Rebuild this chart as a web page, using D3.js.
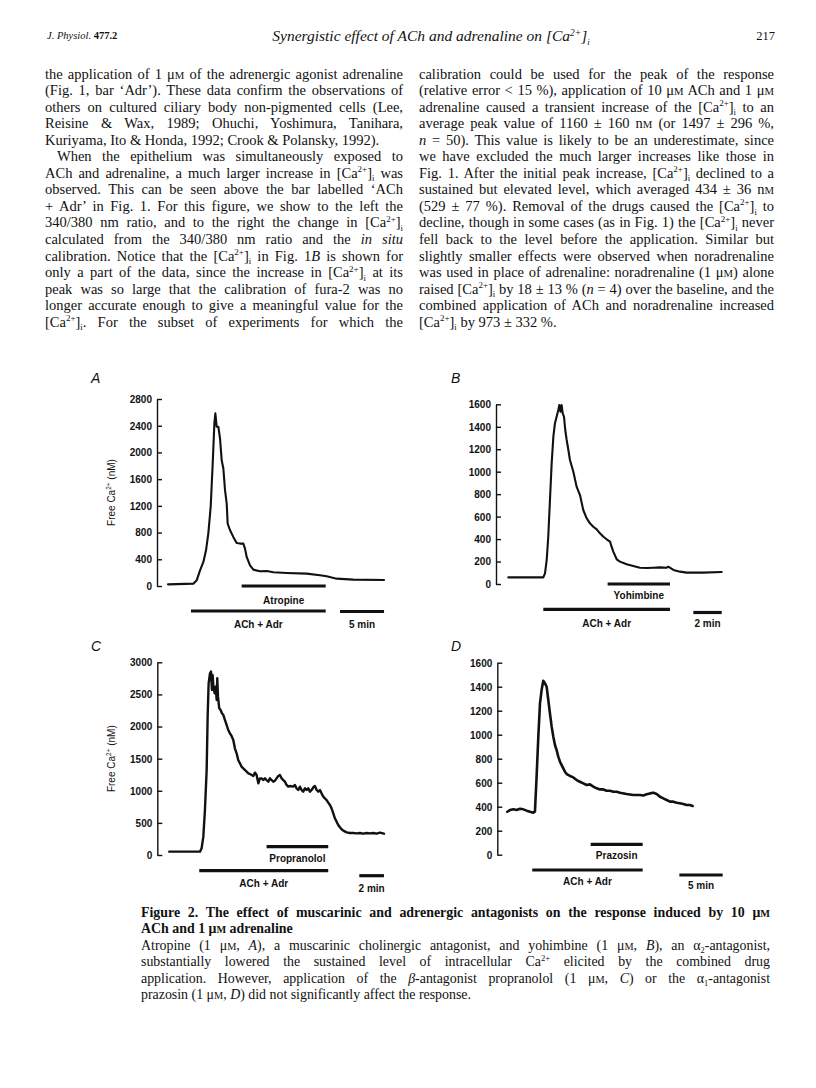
<!DOCTYPE html>
<html><head><meta charset="utf-8">
<script src="https://cdn.jsdelivr.net/npm/d3@7"></script>
<style>body{margin:0;background:#fff}</style>
</head><body>
<svg id="page" width="816" height="1088"></svg>
<script>
// ---------------- DATA ----------------
// Panel A: time (min) and free Ca2+ (nM)
const timeA = [0, 2.88, 3.26, 3.64, 4.02, 4.32, 4.58, 4.85, 5.08, 5.27, 5.38, 5.53, 5.72, 5.91, 6.10, 6.29, 6.48, 6.67, 6.78, 7.05, 7.42, 7.80, 8.18, 8.56, 8.75, 8.94, 9.32, 9.70, 10.45, 11.21, 11.97, 13.48, 15.76, 17.27, 18.03, 19.17, 21.06, 24.55];
const caA   = [25, 35, 85, 235, 360, 535, 785, 1185, 1835, 2435, 2585, 2385, 2385, 2210, 1885, 1760, 1435, 1235, 935, 835, 735, 645, 635, 635, 560, 435, 310, 245, 220, 225, 205, 195, 185, 160, 145, 110, 95, 90];
// Panel B
const timeB = [0, 2.47, 2.59, 2.71, 2.82, 2.94, 3.06, 3.18, 3.29, 3.41, 3.53, 3.60, 3.69, 3.76, 3.84, 3.93, 4.02, 4.12, 4.24, 4.35, 4.59, 4.82, 5.06, 5.29, 5.53, 5.76, 6.00, 6.24, 6.47, 6.71, 6.94, 7.18, 7.29, 7.41, 7.65, 7.88, 8.35, 8.82, 9.29, 9.76, 10.24, 10.71, 11.18, 11.29, 11.65, 12.12, 12.59, 13.76, 15.06];
const caB   = [59, 59, 95, 214, 421, 748, 1074, 1312, 1430, 1490, 1549, 1594, 1534, 1594, 1520, 1490, 1371, 1282, 1193, 1104, 1000, 867, 792, 659, 585, 540, 510, 487, 451, 421, 398, 377, 332, 288, 220, 199, 175, 160, 145, 142, 145, 148, 145, 154, 125, 110, 101, 101, 107];
// Panel C
const timeC = [0, 2.49, 2.62, 2.76, 2.89, 3.03, 3.11, 3.19, 3.30, 3.38, 3.46, 3.51, 3.59, 3.68, 3.76, 3.84, 3.89, 3.95, 4.05, 4.16, 4.27, 4.38, 4.51, 4.65, 4.78, 4.92, 5.05, 5.19, 5.32, 5.46, 5.59, 5.73, 5.86, 6.00, 6.14, 6.27, 6.41, 6.54, 6.68, 6.81, 6.95, 7.08, 7.22, 7.35, 7.49, 7.62, 7.76, 7.89, 8.03, 8.16, 8.30, 8.43, 8.57, 8.70, 8.84, 8.97, 9.11, 9.24, 9.38, 9.51, 9.65, 9.78, 10.05, 10.19, 10.32, 10.46, 10.59, 10.73, 10.86, 11.00, 11.14, 11.27, 11.41, 11.54, 11.68, 11.81, 11.95, 12.08, 12.22, 12.35, 12.49, 12.62, 12.76, 12.89, 13.03, 13.16, 13.30, 13.43, 13.57, 13.70, 13.84, 13.97, 14.11, 14.38, 14.65, 14.92, 15.19, 15.46, 15.73, 16.00, 16.27, 16.54, 16.81, 17.08, 17.41];
const caC   = [52, 52, 104, 285, 700, 1323, 2154, 2673, 2829, 2855, 2569, 2803, 2595, 2517, 2621, 2413, 2751, 2465, 2284, 2258, 2206, 2180, 2102, 2024, 1946, 1894, 1853, 1790, 1661, 1583, 1479, 1427, 1375, 1349, 1323, 1297, 1271, 1261, 1245, 1230, 1282, 1245, 1116, 1193, 1193, 1167, 1193, 1167, 1141, 1193, 1167, 1141, 1157, 1193, 1230, 1245, 1193, 1167, 1141, 1090, 1064, 1074, 1064, 1090, 1038, 1012, 1064, 1012, 986, 1038, 1012, 1038, 986, 1012, 1054, 1074, 1012, 986, 1012, 960, 908, 882, 856, 815, 778, 727, 649, 571, 519, 467, 431, 400, 379, 353, 343, 343, 337, 343, 332, 343, 337, 343, 332, 348, 332];
// Panel D
const timeD = [0, 0.31, 0.69, 1.08, 1.46, 1.85, 2.23, 2.62, 3.00, 3.19, 3.38, 3.58, 3.77, 3.96, 4.15, 4.35, 4.54, 4.73, 4.92, 5.12, 5.31, 5.50, 5.69, 5.88, 6.08, 6.27, 6.46, 6.65, 6.85, 7.23, 7.62, 8.00, 8.38, 8.77, 9.15, 9.54, 9.92, 10.31, 10.69, 11.08, 11.46, 11.85, 12.23, 12.62, 13.00, 13.77, 14.54, 15.31, 15.69, 16.08, 16.46, 16.85, 17.23, 17.62, 18.00, 18.38, 18.77, 19.15, 19.54, 19.92, 20.31, 20.69, 21.08, 21.38];
const caD   = [358, 372, 378, 372, 383, 378, 367, 358, 350, 358, 650, 983, 1261, 1372, 1450, 1428, 1400, 1289, 1178, 1067, 983, 914, 872, 817, 775, 747, 719, 692, 672, 656, 644, 622, 608, 594, 581, 586, 567, 553, 544, 544, 533, 533, 525, 525, 517, 506, 497, 497, 494, 503, 511, 517, 506, 483, 469, 456, 442, 442, 433, 428, 422, 414, 414, 406];

// Y tick values
const ticksA = [0, 400, 800, 1200, 1600, 2000, 2400, 2800];
const ticksB = [0, 200, 400, 600, 800, 1000, 1200, 1400, 1600];
const ticksC = [0, 500, 1000, 1500, 2000, 2500, 3000];
const ticksD = [0, 200, 400, 600, 800, 1000, 1200, 1400, 1600];

// Drug application bars [start, end] in minutes
const drugNames = ["Atropine", "Yohimbine", "Propranolol", "Prazosin"];
const drugBars  = [[8.37, 17.92], [7.01, 11.41], [7.89, 12.89], [9.62, 15.62]];
const achBars   = [[2.61, 17.92], [2.47, 11.41], [2.43, 12.89], [2.88, 15.62]];
const scaleBars = [[19.55, 24.55], [13.06, 15.06], [15.41, 17.41], [19.85, 24.85]];
const scaleLabels = ["5 min", "2 min", "2 min", "5 min"];
const panelLetters = ["A", "B", "C", "D"];
const yAxisTitle = "Free Ca";

// ---------------- TEXT ----------------
const header = {left: "J. Physiol.", vol: "477.2", title: "Synergistic effect of ACh and adrenaline on ", page: "217"};
const leftColumn = [
 "the application of 1 {uM} of the adrenergic agonist adrenaline",
 "(Fig. 1, bar \u2018Adr\u2019). These data confirm the observations of",
 "others on cultured ciliary body non-pigmented cells (Lee,",
 "Reisine & Wax, 1989; Ohuchi, Yoshimura, Tanihara,",
 "Kuriyama, Ito & Honda, 1992; Crook & Polansky, 1992).",
 "When the epithelium was simultaneously exposed to",
 "ACh and adrenaline, a much larger increase in {Ca} was",
 "observed. This can be seen above the bar labelled \u2018ACh",
 "+ Adr\u2019 in Fig. 1. For this figure, we show to the left the",
 "340/380 nm ratio, and to the right the change in {Ca}",
 "calculated from the 340/380 nm ratio and the <i>in situ</i>",
 "calibration. Notice that the {Ca} in Fig. 1<i>B</i> is shown for",
 "only a part of the data, since the increase in {Ca} at its",
 "peak was so large that the calibration of fura-2 was no",
 "longer accurate enough to give a meaningful value for the",
 "{Ca}. For the subset of experiments for which the"
];
const leftFlags = [1,1,1,1,0,1,1,1,1,1,1,1,1,1,1,1]; // 1 = justified
const rightColumn = [
 "calibration could be used for the peak of the response",
 "(relative error < 15 %), application of 10 {uM} ACh and 1 {uM}",
 "adrenaline caused a transient increase of the {Ca} to an",
 "average peak value of 1160 \u00b1 160 {nM} (or 1497 \u00b1 296 %,",
 "<i>n</i> = 50). This value is likely to be an underestimate, since",
 "we have excluded the much larger increases like those in",
 "Fig. 1. After the initial peak increase, {Ca} declined to a",
 "sustained but elevated level, which averaged 434 \u00b1 36 {nM}",
 "(529 \u00b1 77 %). Removal of the drugs caused the {Ca} to",
 "decline, though in some cases (as in Fig. 1) the {Ca} never",
 "fell back to the level before the application. Similar but",
 "slightly smaller effects were observed when noradrenaline",
 "was used in place of adrenaline: noradrenaline (1 {uM}) alone",
 "raised {Ca} by 18 \u00b1 13 % (<i>n</i> = 4) over the baseline, and the",
 "combined application of ACh and noradrenaline increased",
 "{Ca} by 973 \u00b1 332 %."
];
const rightFlags = [1,1,1,1,1,1,1,1,1,1,1,1,1,1,1,0];
const caption = [
 "Figure 2. The effect of muscarinic and adrenergic antagonists on the response induced by 10 {uM}",
 "ACh and 1 {uM} adrenaline",
 "Atropine (1 {uM}, <i>A</i>), a muscarinic cholinergic antagonist, and yohimbine (1 {uM}, <i>B</i>), an \u03b1{sub:2}-antagonist,",
 "substantially lowered the sustained level of intracellular Ca{sup:2+} elicited by the combined drug",
 "application. However, application of the <i>\u03b2</i>-antagonist propranolol (1 {uM}, <i>C</i>) or the \u03b1{sub:1}-antagonist",
 "prazosin (1 {uM}, <i>D</i>) did not significantly affect the response."
];
const captionBold = [1,1,0,0,0,0];
const captionJust = [1,0,1,1,1,0];

// ---------------- DRAW ----------------
const svg = d3.select("#page");
svg.append("rect").attr("width",816).attr("height",1088).attr("fill","#fff");
const INK = "#111";

function rich(sel, str, size) {
  const parts = str.split(/(\{Ca\}|\{uM\}|\{nM\}|\{sup:[^}]*\}|\{sub:[^}]*\}|<i>|<\/i>)/);
  let italic = false, shift = 0;
  const add = (txt, o = {}) => {
    const off = o.off || 0;
    const ts = sel.append("tspan").text(txt);
    if (Math.abs(off - shift) > 0.01) { ts.attr("dy", off - shift); shift = off; }
    if (o.size) ts.attr("font-size", o.size);
    if (italic) ts.attr("font-style", "italic");
  };
  parts.forEach(p => {
    if (!p) return;
    if (p === "<i>") { italic = true; return; }
    if (p === "</i>") { italic = false; return; }
    if (p === "{Ca}") {
      add("[Ca"); add("2+", {off: -0.38*size, size: 0.62*size}); add("]");
      add("i", {off: 0.25*size, size: 0.6*size}); return;
    }
    if (p === "{uM}") { add("\u03bc"); add("M", {size: 0.74*size}); return; }
    if (p === "{nM}") { add("n"); add("M", {size: 0.74*size}); return; }
    if (p.startsWith("{sup:")) { add(p.slice(5,-1), {off: -0.38*size, size: 0.62*size}); return; }
    if (p.startsWith("{sub:")) { add(p.slice(5,-1), {off: 0.25*size, size: 0.6*size}); return; }
    add(p);
  });
}

function textBlock(lines, flags, x0, x1, y0, dy, size, opts = {}) {
  lines.forEach((ln, i) => {
    const indent = (opts.indentLines && opts.indentLines.includes(i)) ? opts.indent : 0;
    const t = svg.append("text")
      .attr("x", x0 + indent).attr("y", y0 + i*dy)
      .attr("font-family", "'Liberation Serif', 'Times New Roman', serif")
      .attr("font-size", size).attr("fill", INK)
      .attr("font-weight", opts.bold && opts.bold[i] ? "bold" : null);
    rich(t, ln, size);
    if (flags[i]) {
      const nat = t.node().getComputedTextLength();
      const spaces = (t.text().match(/ /g) || []).length;
      if (spaces > 0) t.attr("word-spacing", ((x1 - x0 - indent) - nat) / spaces);
    }
  });
}

// header
const hd = svg.append("text").attr("x", 47).attr("y", 39)
  .attr("font-family", "'Liberation Serif', serif").attr("font-size", 10.5).attr("fill", INK);
hd.append("tspan").attr("font-style", "italic").text(header.left + " ");
hd.append("tspan").attr("font-weight", "bold").text(header.vol);
const ht = svg.append("text").attr("x", 431).attr("y", 41).attr("text-anchor", "middle")
  .attr("font-family", "'Liberation Serif', serif").attr("font-size", 15.5).attr("font-style", "italic").attr("fill", INK);
ht.append("tspan").text(header.title + "[Ca");
ht.append("tspan").attr("dy", -5.5).attr("font-size", 9.5).text("2+");
ht.append("tspan").attr("dy", 5.5).text("]");
ht.append("tspan").attr("dy", 3.5).attr("font-size", 9).text("i");
svg.append("text").attr("x", 775).attr("y", 40).attr("text-anchor", "end")
  .attr("font-family", "'Liberation Serif', serif").attr("font-size", 12.5).attr("fill", INK).text(header.page);

// body columns
textBlock(leftColumn, leftFlags, 45, 403, 78.5, 16.55, 14.5, {indentLines: [5], indent: 12});
textBlock(rightColumn, rightFlags, 419, 774, 78.5, 16.55, 14.5);

// caption
textBlock(caption, captionJust, 141, 770, 917, 16.4, 13.9, {bold: captionBold});

// ---------------- PANELS ----------------
const panels = [
  {t: timeA, v: caA, ticks: ticksA, yMax: 2800, axisX: 157, yTop: 399, yBot: 586, x0: 168, pxMin: 8.8, yLabel: true,
   drugY: 586, achY: 611, scaleY: 611.5, drugLY: 604, achLY: 628, scaleLY: 628, letterXY: [91, 383], sw: 2.1},
  {t: timeB, v: caB, ticks: ticksB, yMax: 1600, axisX: 496, yTop: 404.3, yBot: 584, x0: 508.3, pxMin: 14.17, yLabel: false,
   drugY: 584, achY: 609.3, scaleY: 612.5, drugLY: 599, achLY: 626.5, scaleLY: 626.5, letterXY: [451, 383], sw: 2.1},
  {t: timeC, v: caC, ticks: ticksC, yMax: 3000, axisX: 157.3, yTop: 662.3, yBot: 855, x0: 169.3, pxMin: 12.33, yLabel: true,
   drugY: 846.7, achY: 870.7, scaleY: 875.7, drugLY: 861.5, achLY: 887, scaleLY: 892, letterXY: [91, 651], sw: 2.4},
  {t: timeD, v: caD, ticks: ticksD, yMax: 1600, axisX: 497.3, yTop: 662.7, yBot: 854.7, x0: 507.3, pxMin: 8.667, yLabel: false,
   drugY: 844.3, achY: 870, scaleY: 875, drugLY: 859, achLY: 885, scaleLY: 889, letterXY: [451, 651], sw: 2.6}
];

const SANS = "'Liberation Sans', Arial, Helvetica, sans-serif";
panels.forEach((p, i) => {
  const g = svg.append("g");
  const x = d3.scaleLinear().domain([0, 1]).range([p.x0, p.x0 + p.pxMin]);
  const y = d3.scaleLinear().domain([0, p.yMax]).range([p.yBot, p.yTop]);

  // y axis
  const ax = d3.axisLeft(y).tickValues(p.ticks).tickSizeInner(-5).tickSizeOuter(0).tickPadding(5)
    .tickFormat(d3.format("d"));
  const ag = g.append("g").attr("transform", `translate(${p.axisX},0)`).call(ax);
  ag.select(".domain").attr("stroke", INK).attr("stroke-width", 1.4);
  ag.selectAll(".tick line").attr("stroke", INK).attr("stroke-width", 1.4);
  ag.selectAll(".tick text").attr("font-family", SANS).attr("font-size", 10).attr("fill", INK)
    .attr("font-weight", "bold").attr("dy", "0.34em");

  // y axis title
  if (p.yLabel) {
    const yt = g.append("text")
      .attr("transform", `translate(${p.axisX - 42},${(p.yTop + p.yBot)/2}) rotate(-90)`)
      .attr("text-anchor", "middle").attr("font-family", SANS).attr("font-size", 10).attr("fill", INK);
    yt.append("tspan").text(yAxisTitle);
    yt.append("tspan").attr("dy", -4).attr("font-size", 6.5).text("2+");
    yt.append("tspan").attr("dy", 4).text(" (nM)");
  }

  // trace
  const pts = p.t.map((tt, k) => [tt, p.v[k]]);
  g.append("path").datum(pts)
    .attr("d", d3.line().x(d => x(d[0])).y(d => y(d[1])).curve(d3.curveLinear))
    .attr("fill", "none").attr("stroke", INK).attr("stroke-width", p.sw)
    .attr("stroke-linejoin", "round").attr("stroke-linecap", "round");

  // bars
  const bar = (rng, yy) => g.append("line")
    .attr("x1", x(rng[0])).attr("x2", x(rng[1])).attr("y1", yy).attr("y2", yy)
    .attr("stroke", INK).attr("stroke-width", 3.2);
  bar(drugBars[i], p.drugY);
  bar(achBars[i], p.achY);
  bar(scaleBars[i], p.scaleY);

  const lab = (txt, rng, yy) => g.append("text")
    .attr("x", (x(rng[0]) + x(rng[1]))/2).attr("y", yy).attr("text-anchor", "middle")
    .attr("font-family", SANS).attr("font-size", 10).attr("font-weight", "bold").attr("fill", INK).text(txt);
  lab(drugNames[i], drugBars[i], p.drugLY);
  lab("ACh + Adr", achBars[i], p.achLY);
  lab(scaleLabels[i], scaleBars[i], p.scaleLY);

  // panel letter
  g.append("text").attr("x", p.letterXY[0]).attr("y", p.letterXY[1])
    .attr("font-family", SANS).attr("font-size", 14).attr("font-style", "italic").attr("fill", INK)
    .text(panelLetters[i]);
});
</script>
</body></html>
